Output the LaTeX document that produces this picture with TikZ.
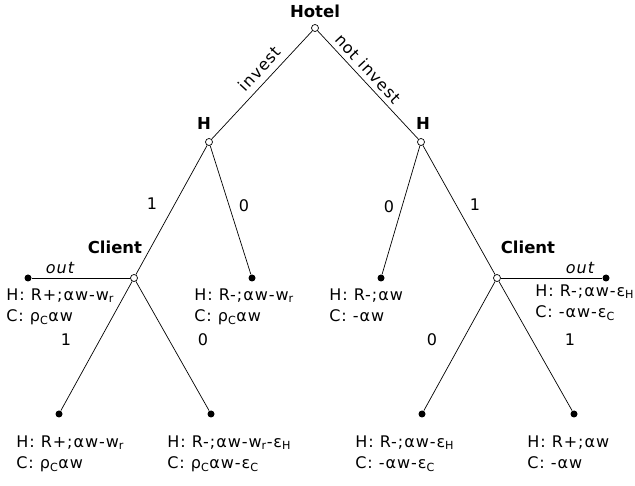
\documentclass[tikz,border=0pt]{standalone}
\usepackage{fontspec}
\setmainfont{DejaVu Sans}[LetterSpace=6]
\newfontfamily\playerfont{DejaVu Sans Bold}
\usetikzlibrary{positioning}

\begin{document}
\begin{tikzpicture}[x=1pt, y=-1pt,
  every node/.style={font=\fontsize{16}{21.5}\selectfont},
  decision/.style={circle, draw, fill=white, line width=0.7pt, inner sep=0pt, minimum size=7pt},
  terminal/.style={circle, fill=black, inner sep=0pt, minimum size=7pt},
  player/.style={font=\fontsize{16.5}{18}\selectfont\playerfont},
  payoff/.style={align=left, anchor=north west, inner sep=0pt},
  move/.style={inner sep=0pt},
  every path/.style={line width=0.7pt}]
\useasboundingbox (0,0) rectangle (635,486);

% decision nodes
\node[decision] (hotel) at (315,28) {};
\node[decision] (hl) at (209,142) {};
\node[decision] (hr) at (421,142) {};
\node[decision] (cl) at (134,278) {};
\node[decision] (cr) at (497,278) {};

% players
\node[player] (hotellab) at (315,11) {Hotel};
\node[player] (hllab) at (204,123) {H};
\node[player] (hrlab) at (423,123) {H};
\node[player] (cllab) at (115,247) {Client};
\node[player] (crlab) at (528,247) {Client};

% terminal nodes
\node[terminal] (outl) at (28,278) {};
\node[terminal] (ll) at (252,278) {};
\node[terminal] (rl) at (381,278) {};
\node[terminal] (outr) at (606,278) {};
\node[terminal] (cla) at (59,414) {};
\node[terminal] (clb) at (211,414) {};
\node[terminal] (cra) at (422,414) {};
\node[terminal] (crb) at (574,414) {};

% edges
\draw (hl) -- node[sloped, above=3pt, pos=0.57] {invest} (hotel);
\draw (hotel) -- node[sloped, above=1.5pt, pos=0.42] {not invest} (hr);
\draw (hl) -- (cl);
\draw (hl) -- (ll);
\draw (hr) -- (rl);
\draw (hr) -- (cr);
\draw (cl) -- (outl);
\draw (cl) -- (cla);
\draw (cl) -- (clb);
\draw (cr) -- (outr);
\draw (cr) -- (cra);
\draw (cr) -- (crb);

% moves
\node[move] (m1) at (152,204) {1};
\node[move] (m2) at (244,206) {0};
\node[move] (m3) at (389,207) {0};
\node[move] (m4) at (475,205) {1};
\node[move] (m5) at (66,340) {1};
\node[move] (m6) at (203,340) {0};
\node[move] (m7) at (432,340) {0};
\node[move] (m8) at (570,340) {1};
\node[move, font=\fontsize{16}{18}\selectfont\itshape] (outllab) at (60,268) {out};
\node[move, font=\fontsize{16}{18}\selectfont\itshape] (outrlab) at (580,268) {out};

% payoffs
\node[payoff] (poutl) at (6,288) {H: R+;αw-w\textsubscript{r}\\C: ρ\textsubscript{C}αw};
\node[payoff] (pll) at (194,288) {H: R-;αw-w\textsubscript{r}\\C: ρ\textsubscript{C}αw};
\node[payoff] (prl) at (329,288) {H: R-;αw\\C: -αw};
\node[payoff] (poutr) at (535,284) {H: R-;αw-ε\textsubscript{H}\\C: -αw-ε\textsubscript{C}};
\node[payoff] (pcla) at (16,435) {H: R+;αw-w\textsubscript{r}\\C: ρ\textsubscript{C}αw};
\node[payoff] (pclb) at (167,435) {H: R-;αw-w\textsubscript{r}-ε\textsubscript{H}\\C: ρ\textsubscript{C}αw-ε\textsubscript{C}};
\node[payoff] (pcra) at (355,435) {H: R-;αw-ε\textsubscript{H}\\C: -αw-ε\textsubscript{C}};
\node[payoff] (pcrb) at (527,435) {H: R+;αw\\C: -αw};
\end{tikzpicture}
\end{document}
